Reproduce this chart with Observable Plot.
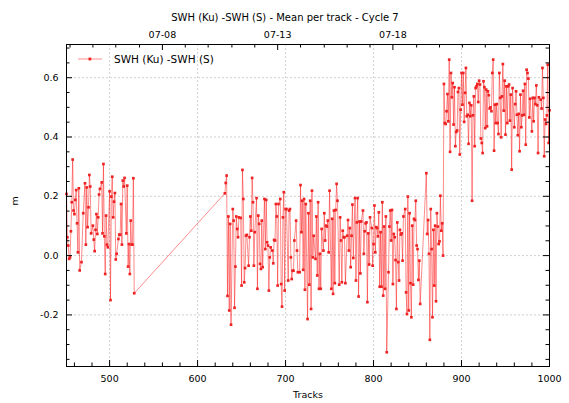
<!DOCTYPE html>
<html><head><meta charset="utf-8">
<script src="https://cdn.jsdelivr.net/npm/d3@7"></script>
<script src="https://cdn.jsdelivr.net/npm/@observablehq/plot@0.6"></script>
<style>
body{margin:0;background:#fff;font-family:"DejaVu Sans",sans-serif;}
#wrap{position:relative;width:569px;height:403px;}
#legend{position:absolute;left:78px;top:53px;display:flex;align-items:center;font-size:10.5px;line-height:12px;color:#000;}
</style></head><body>
<div id="wrap"><div id="legend"><svg width="26" height="10"><line x1="0" y1="5" x2="24" y2="5" stroke="red" stroke-opacity="0.5" stroke-width="0.9"/><rect x="10.5" y="3.6" width="2.8" height="2.8" fill="#ee2222"/></svg><span style="margin-left:10px">SWH (Ku) -SWH (S)</span></div></div>
<script>
const title = "SWH (Ku) -SWH (S) - Mean per track - Cycle 7";
const xLabel = "Tracks";
const yLabel = "m";
const seriesName = "SWH (Ku) -SWH (S)";

// Segment 1 (tracks 451-528)
const seg1Tracks = [451,452,453,454,455,456,457,458,459,460,461,462,463,464,465,466,468,470,472,473,474,475,476,477,478,479,481,482,483,484,485,486,487,488,489,491,492,493,494,495,496,497,498,500,501,502,503,504,505,506,507,508,510,511,512,513,514,515,516,517,519,520,521,522,523,524,525,526,527,528];
const seg1Values = [0.208,0.062,0.034,-0.011,-0.006,0.082,0.18,0.324,0.152,0.14,
0.188,0.221,0.109,0.011,0.227,-0.05,-0.022,0.143,0.244,0.037,
0.23,0.096,0.163,0.272,0.233,0.075,0.101,0.054,0.015,0.087,
0.14,0.073,0.129,0.206,0.225,0.247,0.075,0.309,0.065,-0.062,
0.135,0.037,0.028,0.217,-0.15,0.199,0.266,0.129,0.182,0.211,
-0.013,0.006,0.056,0.071,0.07,0.174,0.037,0.253,0.233,0.262,
0.075,0.236,-0.037,0.039,-0.062,0.118,0.037,0.037,0.261,-0.127];

// Segment 2, runs of consecutive tracks and their values
const runsA = [[631,638],[640,647],[649,656],[658,665],[667,674],[676,683],[685,692],[694,701],[703,710],[712,714]];
const valuesA = [0.21,0.245,0.27,-0.136,0.132,-0.185,0.107,-0.233,0.157,0.118,
-0.176,-0.037,0.132,0.09,0.062,0.129,0.127,-0.101,0.289,0.191,
-0.09,-0.042,0.067,0.07,-0.034,0.062,0.132,0.084,0.262,0.18,
-0.034,0.079,0.194,-0.112,0.135,0.107,-0.028,-0.045,0.118,-0.039,
0.191,0.022,0.188,0.045,0.034,-0.118,-0.006,0.028,0.017,-0.026,
0.053,0.051,0.174,0.132,-0.101,0.174,0.191,-0.096,-0.172,0.129,
0.214,-0.118,0.157,0.157,-0.084,0.152,0.157,-0.006,-0.079,-0.051,
-0.051,0.051,0.118,0.017,-0.056];

const runsB = [[716,723],[725,732],[734,741],[743,750],[752,759],[761,768],[770,777],[779,786],[788,796]];
const valuesB = [-0.056,0.238,0.079,0.185,-0.048,0.191,-0.115,0.174,-0.214,0.143,
-0.098,0.185,-0.18,0.219,-0.006,0.067,-0.011,0.132,-0.067,0.18,
-0.112,0.006,-0.112,0.09,0.017,0.143,0.051,0.101,0.098,0.118,
0.011,0.219,-0.112,0.124,-0.129,0.152,-0.093,0.154,0.242,0.185,
-0.098,0.129,0.051,-0.09,0.084,0.062,0.062,-0.093,0.067,0.12,
0.017,0.093,-0.039,0.067,0.172,-0.008,0.194,-0.084,0.112,0.194,
-0.138,0.115,-0.06,0.115,0.152,0.006,0.082,0.109,0.112,-0.157,
0.075,-0.03,0.129];

const runsC = [[798,815],[817,834],[836,853],[860,879]];
const valuesC = [0.093,-0.034,0.039,0.169,0.011,0.096,0.093,0.065,0.146,-0.105,
0.079,-0.105,0.18,-0.135,0.098,-0.112,0.132,-0.326,-0.056,0.098,
0.152,0.051,0.154,-0.096,0.073,0.062,-0.015,-0.18,0.112,-0.022,
-0.084,0.087,0.071,0.075,-0.017,0.132,0.157,-0.124,-0.197,0.199,
-0.185,0.143,-0.093,-0.208,0.101,-0.098,0.124,0.12,0.185,0.034,
0.022,-0.082,-0.017,-0.163,
0.278,0.073,0.12,0.006,-0.284,0.157,0.022,-0.208,0.087,-0.101,
0.101,-0.154,0.143,0.098,0.039,0.048,0.202,0.084,0.109,0.0];

const runsD = [[880,939]];
const valuesD = [0.579,0.447,0.444,0.487,0.545,0.453,0.661,0.35,0.616,0.534,
0.582,0.442,0.568,0.369,0.417,0.422,0.552,0.565,0.341,0.492,
0.616,0.509,0.616,0.451,0.549,0.633,0.47,0.475,0.377,0.515,
0.47,0.507,0.185,0.473,0.537,0.369,0.565,0.571,0.579,0.518,
0.59,0.577,0.395,0.38,0.346,0.588,0.568,0.43,0.56,0.436,
0.554,0.541,0.496,0.5,0.487,0.616,0.661,0.354,0.509,0.447];

const runsE = [[940,958],[960,978],[980,988],[990,1000]];
const valuesE = [0.511,0.447,0.41,0.616,0.532,0.399,0.537,0.646,0.489,0.59,
0.408,0.571,0.447,0.571,0.577,0.455,0.543,0.29,0.565,0.433,
0.511,0.554,0.475,0.406,0.478,0.352,0.543,0.433,0.473,0.556,
0.475,0.579,0.374,0.627,0.616,0.597,0.466,0.529,0.419,0.532,
0.453,0.532,0.511,0.574,0.507,0.346,0.534,0.526,0.496,0.633,
0.532,0.335,0.459,0.444,0.473,0.644,0.38,0.49];

// Axis ticks
const xMajorTicks = [500,600,700,800,900,1000];
const xMinorTicks = [460,480,520,540,560,580,620,640,660,680,720,740,760,780,820,840,860,880,920,940,960,980];
const yMajorTicks = [-0.2,0.0,0.2,0.4,0.6];
const yMinorTicks = [-0.35,-0.3,-0.25,-0.15,-0.1,-0.05,0.05,0.1,0.15,0.25,0.3,0.35,0.45,0.5,0.55,0.65,0.7];
const dateTicks = [560,691,822];
const dateLabels = ["07-08","07-13","07-18"];
const dayTicks = [455,481,507,534,586,612,639,665,717,744,770,796,849,875,901,927,954,980];

const expand = runs => runs.flatMap(([a,b]) => d3.range(a, b + 1));
const tracks = [...seg1Tracks, ...expand(runsA), ...expand(runsB), ...expand(runsC), ...expand(runsD), ...expand(runsE)];
const values = [...seg1Values, ...valuesA, ...valuesB, ...valuesC, ...valuesD, ...valuesE];
const data = tracks.map((t, i) => ({track: t, value: values[i], series: seriesName})).filter(d => d.value !== undefined);
const dateMap = new Map(dateTicks.map((d, i) => [d, dateLabels[i]]));

const W = 569, H = 403, mL = 66, mR = 20, mT = 44, mB = 37;
const FW = W - mL - mR, FH = H - mT - mB;
const gridStyle = {stroke: "#c4c4c4", strokeOpacity: 1, strokeDasharray: "2,2", strokeWidth: 0.8};

const chart = Plot.plot({
  width: W, height: H,
  marginLeft: mL, marginRight: mR, marginTop: mT, marginBottom: mB,
  style: {fontFamily: "'DejaVu Sans', sans-serif", fontSize: "9.5px", background: "white", color: "black"},
  x: {domain: [451, 1000]},
  y: {domain: [-0.374, 0.712]},
  marks: [
    Plot.gridX(xMajorTicks, gridStyle),
    Plot.gridY(yMajorTicks, gridStyle),
    Plot.line(data, {x: "track", y: "value", stroke: "red", strokeOpacity: 0.5, strokeWidth: 0.9}),
    Plot.dot(data, {x: "track", y: "value", symbol: "square", r: 1.5, fill: "#ee2222", stroke: "none"}),
    // inward ticks
    Plot.tickX(xMajorTicks, {insetTop: FH - 6, stroke: "black"}),
    Plot.tickX(xMinorTicks, {insetTop: FH - 3.5, stroke: "black"}),
    Plot.tickX(dateTicks, {insetBottom: FH - 6, stroke: "black"}),
    Plot.tickX(dayTicks, {insetBottom: FH - 3.5, stroke: "black"}),
    Plot.tickY(yMajorTicks, {insetRight: FW - 6, stroke: "black"}),
    Plot.tickY(yMinorTicks, {insetRight: FW - 3.5, stroke: "black"}),
    Plot.tickY(yMajorTicks, {insetLeft: FW - 6, stroke: "black"}),
    Plot.tickY(yMinorTicks, {insetLeft: FW - 3.5, stroke: "black"}),
    Plot.axisX(xMajorTicks, {anchor: "bottom", tickSize: 0, tickPadding: 9, tickFormat: d => String(d), label: null}),
    Plot.axisX(dateTicks, {anchor: "top", tickSize: 0, tickPadding: 7, tickFormat: d => dateMap.get(d), label: null}),
    Plot.axisY(yMajorTicks, {anchor: "left", tickSize: 0, tickPadding: 8, tickFormat: d => d.toFixed(1), label: null}),
    Plot.frame({stroke: "black", strokeWidth: 1}),
    Plot.text([xLabel], {text: d => d, frameAnchor: "bottom", dy: 31, fontSize: 9.5}),
    Plot.text([yLabel], {text: d => d, frameAnchor: "left", dx: -52, rotate: -90, fontSize: 9.5}),
    Plot.text([title], {text: d => d, frameAnchor: "top", dx: -23, dy: -31, fontSize: 10})
  ]
});
document.getElementById("wrap").prepend(chart);
</script>
</body></html>
